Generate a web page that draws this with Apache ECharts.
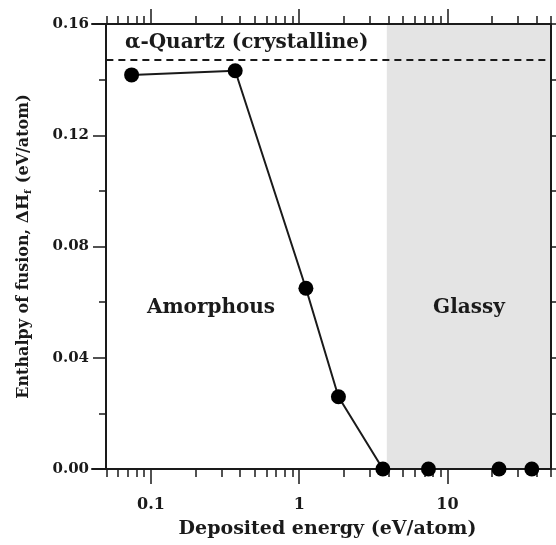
<!DOCTYPE html>
<html>
<head>
<meta charset="utf-8">
<script src="https://cdn.jsdelivr.net/npm/echarts@6/dist/echarts.min.js"></script>
<style>html,body{margin:0;padding:0;background:#fff}#c{width:556px;height:545px}</style>
</head>
<body>
<div id="c"></div>
<script>
// ---- data ----
const depositedEnergy = [0.074, 0.37, 1.11, 1.84, 3.67, 7.45, 22.3, 37.1];
const enthalpyFusion = [0.1417, 0.1432, 0.065, 0.026, 0, 0, 0, 0];
const quartzLevel = 0.1473;
const glassyRange = [3.9, 50];
const xMajorTicks = [0.1, 1, 10];
const xMinorTicks = [0.05, 0.06, 0.07, 0.08, 0.09, 0.2, 0.3, 0.4, 0.5, 0.6, 0.7, 0.8, 0.9,
  2, 3, 4, 5, 6, 7, 8, 9, 20, 30, 40, 50];
const xTickLabels = ['0.1', '1', '10'];
const xRange = [0.04, 50];
const yRange = [0, 0.16];
const yStep = 0.04;
const quartzText = 'α-Quartz (crystalline)';
const amorphousText = 'Amorphous';
const glassyText = 'Glassy';
const xTitle = 'Deposited energy (eV/atom)';

const FONT = '"DejaVu Serif", serif';
const INK = '#1a1a1a';

const chart = echarts.init(document.getElementById('c'), null, {renderer: 'canvas'});

function xAxisDef(pos, major, showLabels) {
  return {
    type: 'log', logBase: 10, position: pos, min: xRange[0], max: xRange[1], z: 1,
    axisLine: {show: major, lineStyle: {color: INK, width: 2}},
    axisTick: {show: true, inside: false, length: major ? 15 : 8, customValues: major ? xMajorTicks : xMinorTicks,
      lineStyle: {color: INK, width: 1.5}},
    axisLabel: {show: showLabels, customValues: xMajorTicks, margin: 28,
      formatter: v => xTickLabels[xMajorTicks.findIndex(t => Math.abs(t - v) < 1e-9)] ?? '',
      fontFamily: FONT, fontWeight: 'bold', fontSize: 16, color: INK},
    splitLine: {show: false},
    name: showLabels ? xTitle : '', nameLocation: 'middle', nameGap: 51,
    nameTextStyle: {fontFamily: FONT, fontWeight: 'bold', fontSize: 19, color: INK, padding: [0, 0, 0, 12]}
  };
}

function yAxisDef(pos, showLabels) {
  return {
    type: 'value', position: pos, min: yRange[0], max: yRange[1], interval: yStep, z: 1,
    offset: pos === 'left' ? -14 : 0,
    axisLine: {show: true, lineStyle: {color: INK, width: 2}},
    axisTick: {show: true, inside: false, length: 13, lineStyle: {color: INK, width: 1.5}},
    minorTick: {show: true, splitNumber: 2, length: 7, lineStyle: {color: INK, width: 1.5}},
    axisLabel: {show: showLabels, margin: 17, formatter: v => v.toFixed(2),
      fontFamily: FONT, fontWeight: 'bold', fontSize: 15, color: INK},
    splitLine: {show: false},
    name: showLabels ? '{a|Enthalpy of fusion, }{b|ΔH}{s|f}{a| (eV/atom)}' : '',
    nameLocation: 'middle', nameGap: 73,
    nameTextStyle: {
      rich: {
        a: {fontFamily: FONT, fontWeight: 'bold', fontSize: 16, color: INK},
        b: {fontFamily: FONT, fontWeight: 'bold', fontSize: 17, color: INK},
        s: {fontFamily: FONT, fontWeight: 'bold', fontSize: 10, color: INK, verticalAlign: 'bottom', padding: [8, 1, 0, 0]}
      }
    }
  };
}

chart.setOption({
  animation: false,
  backgroundColor: '#fff',
  grid: {left: 92, right: 5, top: 24, bottom: 76, containLabel: false},
  xAxis: [
    xAxisDef('bottom', true, true),
    xAxisDef('bottom', false, false),
    xAxisDef('top', true, false),
    xAxisDef('top', false, false)
  ],
  yAxis: [yAxisDef('left', true), yAxisDef('right', false)],
  graphic: [
    {type: 'text', left: 125, top: 33, z: 10,
      style: {text: quartzText, font: 'bold 20px ' + FONT, fill: INK}},
    {type: 'text', x: 211, y: 308, z: 10,
      style: {text: amorphousText, font: 'bold 20px ' + FONT, fill: INK, align: 'center', verticalAlign: 'middle'}},
    {type: 'text', x: 469, y: 308, z: 10,
      style: {text: glassyText, font: 'bold 20px ' + FONT, fill: INK, align: 'center', verticalAlign: 'middle'}}
  ],
  series: [
    {
      type: 'line', z: 0, xAxisIndex: 0, yAxisIndex: 0, data: [], silent: true,
      markArea: {silent: true, itemStyle: {color: '#e4e4e4'},
        data: [[{xAxis: glassyRange[0]}, {xAxis: glassyRange[1]}]]}
    },
    {
      type: 'line', z: 0, xAxisIndex: 0, yAxisIndex: 0, data: [], silent: true,
      markLine: {silent: true, symbol: 'none', label: {show: false},
        lineStyle: {type: [7, 5], color: INK, width: 2},
        data: [[{coord: [0.05, quartzLevel]}, {coord: [xRange[1], quartzLevel]}]]}
    },
    {
      type: 'line', z: 5, xAxisIndex: 0, yAxisIndex: 0,
      data: depositedEnergy.map((x, i) => [x, enthalpyFusion[i]]),
      symbol: 'circle', symbolSize: 15, showSymbol: true,
      lineStyle: {color: INK, width: 2}, itemStyle: {color: '#000'}
    }
  ]
});
</script>
</body>
</html>
